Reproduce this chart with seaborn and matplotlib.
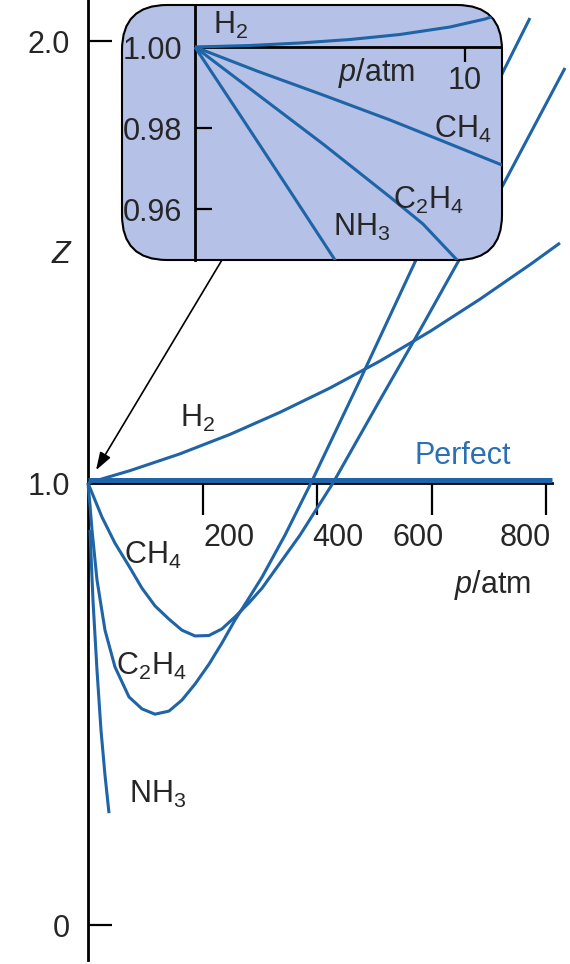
#!/usr/bin/env python3
"""
Compression factor Z of several gases against pressure, with a low-pressure inset.
"""

import matplotlib

matplotlib.use("Agg")
import matplotlib.pyplot as plt
import pandas as pd
import seaborn as sns
from matplotlib.patches import FancyBboxPatch
from matplotlib.transforms import offset_copy

# main panel, p in atm
h2_p = [0, 73.3, 160.6, 247.9, 335.2, 422.5, 509.8, 597.1, 684.4, 771.6, 824.0]
h2_z = [1.0, 1.028, 1.066, 1.110, 1.160, 1.215, 1.276, 1.343, 1.416, 1.494, 1.543]

ch4_p = [0, 24.4, 47.1, 71.6, 94.3, 117.0, 141.4, 164.1, 186.8, 211.2, 233.9,
         256.6, 281.1, 303.8, 370.1, 427.7, 509.8, 579.6, 645.9, 724.5, 832.8]
ch4_z = [1.0, 0.923, 0.864, 0.812, 0.762, 0.722, 0.692, 0.667, 0.654, 0.655, 0.670,
         0.697, 0.729, 0.762, 0.882, 1.000, 1.188, 1.346, 1.500, 1.674, 1.939]

c2h4_p = [0, 3.5, 7.0, 15.7, 29.7, 47.1, 71.6, 94.3, 117.0, 141.4, 164.1, 186.8,
          211.2, 233.9, 256.6, 281.1, 303.8, 343.9, 389.3, 474.9, 570.9, 724.5, 771.6]
c2h4_z = [1.0, 0.950, 0.894, 0.781, 0.667, 0.584, 0.516, 0.489, 0.477, 0.484, 0.509,
          0.545, 0.590, 0.638, 0.690, 0.740, 0.787, 0.882, 1.000, 1.233, 1.500, 1.930, 2.052]

nh3_p = [3.5, 8.7, 15.7, 22.7, 29.7, 36.7]
nh3_z = [0.894, 0.735, 0.577, 0.441, 0.339, 0.253]

perfect_p = [0, 810]
perfect_z = [1.0, 1.0]

x_ticks = [200, 400, 600, 800]
x_label_dx = [27, 21, -14, -21]  # label offsets from tick, in pixels
y_ticks = [0, 1.0, 2.0]
y_labels = ["0", "1.0", "2.0"]

# inset, p in atm
in_h2_p = [0, 2.037, 3.889, 5.741, 7.593, 9.444, 10.741, 11.296]
in_h2_z = [1.0, 1.00037, 1.00099, 1.00185, 1.00309, 1.00494, 1.00691, 1.00815]
in_ch4_p = [0, 2.296, 4.741, 7.222, 9.074, 11.370, 11.67]
in_ch4_z = [1.0, 0.99407, 0.98815, 0.98198, 0.97704, 0.97086, 0.97012]
in_c2h4_p = [0, 2.296, 4.741, 7.222, 8.444, 9.704, 9.89]
in_c2h4_z = [1.0, 0.98840, 0.97605, 0.96296, 0.95630, 0.94741, 0.94593]
in_nh3_p = [0, 1.667, 3.444, 5.185, 5.296]
in_nh3_z = [1.0, 0.98321, 0.96519, 0.94741, 0.94617]
in_y_ticks = [0.96, 0.98, 1.00]
in_y_labels = ["0.96", "0.98", "1.00"]

BLUE = "#1e64a7"
BOX = "#b5c1e6"


def curve(ax, p, z, lw=2.2, **kw):
    df = pd.DataFrame({"p": p, "Z": z})
    sns.lineplot(data=df, x="p", y="Z", sort=False, estimator=None,
                 color=BLUE, lw=lw, ax=ax, zorder=3, **kw)
    line = ax.lines[-1]
    line.set_solid_joinstyle("round")
    line.set_solid_capstyle("butt")
    return line


def main() -> None:
    sns.set_theme(style="white")
    plt.rcParams["font.family"] = ["Liberation Sans", "DejaVu Sans"]
    plt.rcParams["mathtext.fontset"] = "custom"
    plt.rcParams["mathtext.rm"] = "Liberation Sans"
    plt.rcParams["mathtext.it"] = "Liberation Sans:italic"
    plt.rcParams["mathtext.default"] = "regular"
    fs = 22

    fig = plt.figure(figsize=(5.7, 9.64), dpi=100)
    ax = fig.add_axes([0, 0, 1, 1])
    ax.patch.set_visible(False)

    curve(ax, h2_p, h2_z)
    curve(ax, ch4_p, ch4_z)
    curve(ax, c2h4_p, c2h4_z)
    curve(ax, nh3_p, nh3_z)
    perf = curve(ax, perfect_p, perfect_z, lw=3.6)
    perf.set_transform(offset_copy(ax.transData, fig, y=3, units="dots"))

    ax.set_xlim(-153.6, 841.5)
    ax.set_ylim(-0.0882, 2.0928)
    for s in ("top", "right"):
        ax.spines[s].set_visible(False)
    ax.spines["left"].set_position(("data", 0))
    ax.spines["left"].set_bounds(-0.08, 2.1)
    ax.spines["bottom"].set_position(("data", 1.0))
    ax.spines["bottom"].set_bounds(0, 810)
    for s in ("left", "bottom"):
        ax.spines[s].set_linewidth(2.0)
        ax.spines[s].set_color("black")

    ax.set_yticks(y_ticks, y_labels)
    ax.set_xticks(x_ticks, [""] * len(x_ticks))
    ax.tick_params(axis="y", direction="in", length=17, width=1.6, pad=13,
                   labelsize=fs, left=True, color="black")
    ax.tick_params(axis="x", direction="out", length=23, width=1.6,
                   bottom=True, color="black")
    ax.set_xlabel("")
    ax.set_ylabel("")
    for val, dx in zip(x_ticks, x_label_dx):
        ax.text(val, 1.0, str(val), fontsize=fs, ha="center", va="center",
                transform=offset_copy(ax.transData, fig, x=dx, y=-55, units="dots"))

    ax.text(-47, 1.516, "Z", style="italic", fontsize=fs, ha="center", va="center")
    ax.text(707, 0.769, r"$\mathit{p}$/atm", fontsize=fs, ha="center", va="center")
    ax.text(655, 1.061, "Perfect", fontsize=fs, color="#2a70b3", ha="center", va="center")
    ax.text(192, 1.147, r"H$_2$", fontsize=fs, ha="center", va="center")
    ax.text(113, 0.837, r"CH$_4$", fontsize=fs, ha="center", va="center")
    ax.text(110, 0.584, r"C$_2$H$_4$", fontsize=fs, ha="center", va="center")
    ax.text(122, 0.296, r"NH$_3$", fontsize=fs, ha="center", va="center")

    # inset
    axin = fig.add_axes([122 / 570, (964 - 260) / 964, 380 / 570, 255 / 964])
    axin.patch.set_visible(False)
    pos = axin.get_position()
    box = FancyBboxPatch((pos.x0, pos.y0), pos.width, pos.height,
                         boxstyle=f"round,pad=0,rounding_size={45 / 570}",
                         mutation_aspect=570 / 964, transform=fig.transFigure,
                         facecolor=BOX, edgecolor="black", lw=1.5,
                         zorder=0, clip_on=False)
    axin.add_patch(box)

    for p, z in ((in_h2_p, in_h2_z), (in_ch4_p, in_ch4_z),
                 (in_c2h4_p, in_c2h4_z), (in_nh3_p, in_nh3_z)):
        ln = curve(axin, p, z)
        ln.set_clip_path(box)

    axin.set_xlim(-2.704, 11.370)
    axin.set_ylim(0.94741, 1.01037)
    for s in ("top", "right"):
        axin.spines[s].set_visible(False)
    axin.spines["left"].set_position(("data", 0))
    axin.spines["left"].set_bounds(0.94741, 1.01037)
    axin.spines["bottom"].set_position(("data", 1.0))
    axin.spines["bottom"].set_bounds(0, 11.3)
    for s in ("left", "bottom"):
        axin.spines[s].set_linewidth(2.0)
        axin.spines[s].set_color("black")
    axin.set_yticks(in_y_ticks, in_y_labels)
    axin.set_xticks([10], ["10"])
    axin.tick_params(axis="y", direction="in", length=12, width=1.6, pad=9,
                     labelsize=fs, left=True, color="black")
    axin.tick_params(axis="x", direction="out", length=11, width=1.6, pad=3,
                     labelsize=fs, bottom=True, color="black")
    axin.set_xlabel("")
    axin.set_ylabel("")
    axin.text(6.74, 0.99358, r"$\mathit{p}$/atm", fontsize=fs, ha="center", va="center")
    axin.text(1.30, 1.00543, r"H$_2$", fontsize=fs, ha="center", va="center")
    axin.text(9.93, 0.97975, r"CH$_4$", fontsize=fs, ha="center", va="center")
    axin.text(8.63, 0.96222, r"C$_2$H$_4$", fontsize=fs, ha="center", va="center")
    axin.text(6.19, 0.95556, r"NH$_3$", fontsize=fs, ha="center", va="center")

    # arrow from inset to the low-pressure end of the main plot
    ax.annotate("", xy=(14, 1.029), xytext=(0.263, 0.0), textcoords=axin.transAxes,
                arrowprops=dict(arrowstyle="-|>,head_length=0.9,head_width=0.3",
                                color="black", lw=1.2, shrinkA=0, shrinkB=0))

    fig.savefig("out.png", dpi=100)


if __name__ == "__main__":
    main()
